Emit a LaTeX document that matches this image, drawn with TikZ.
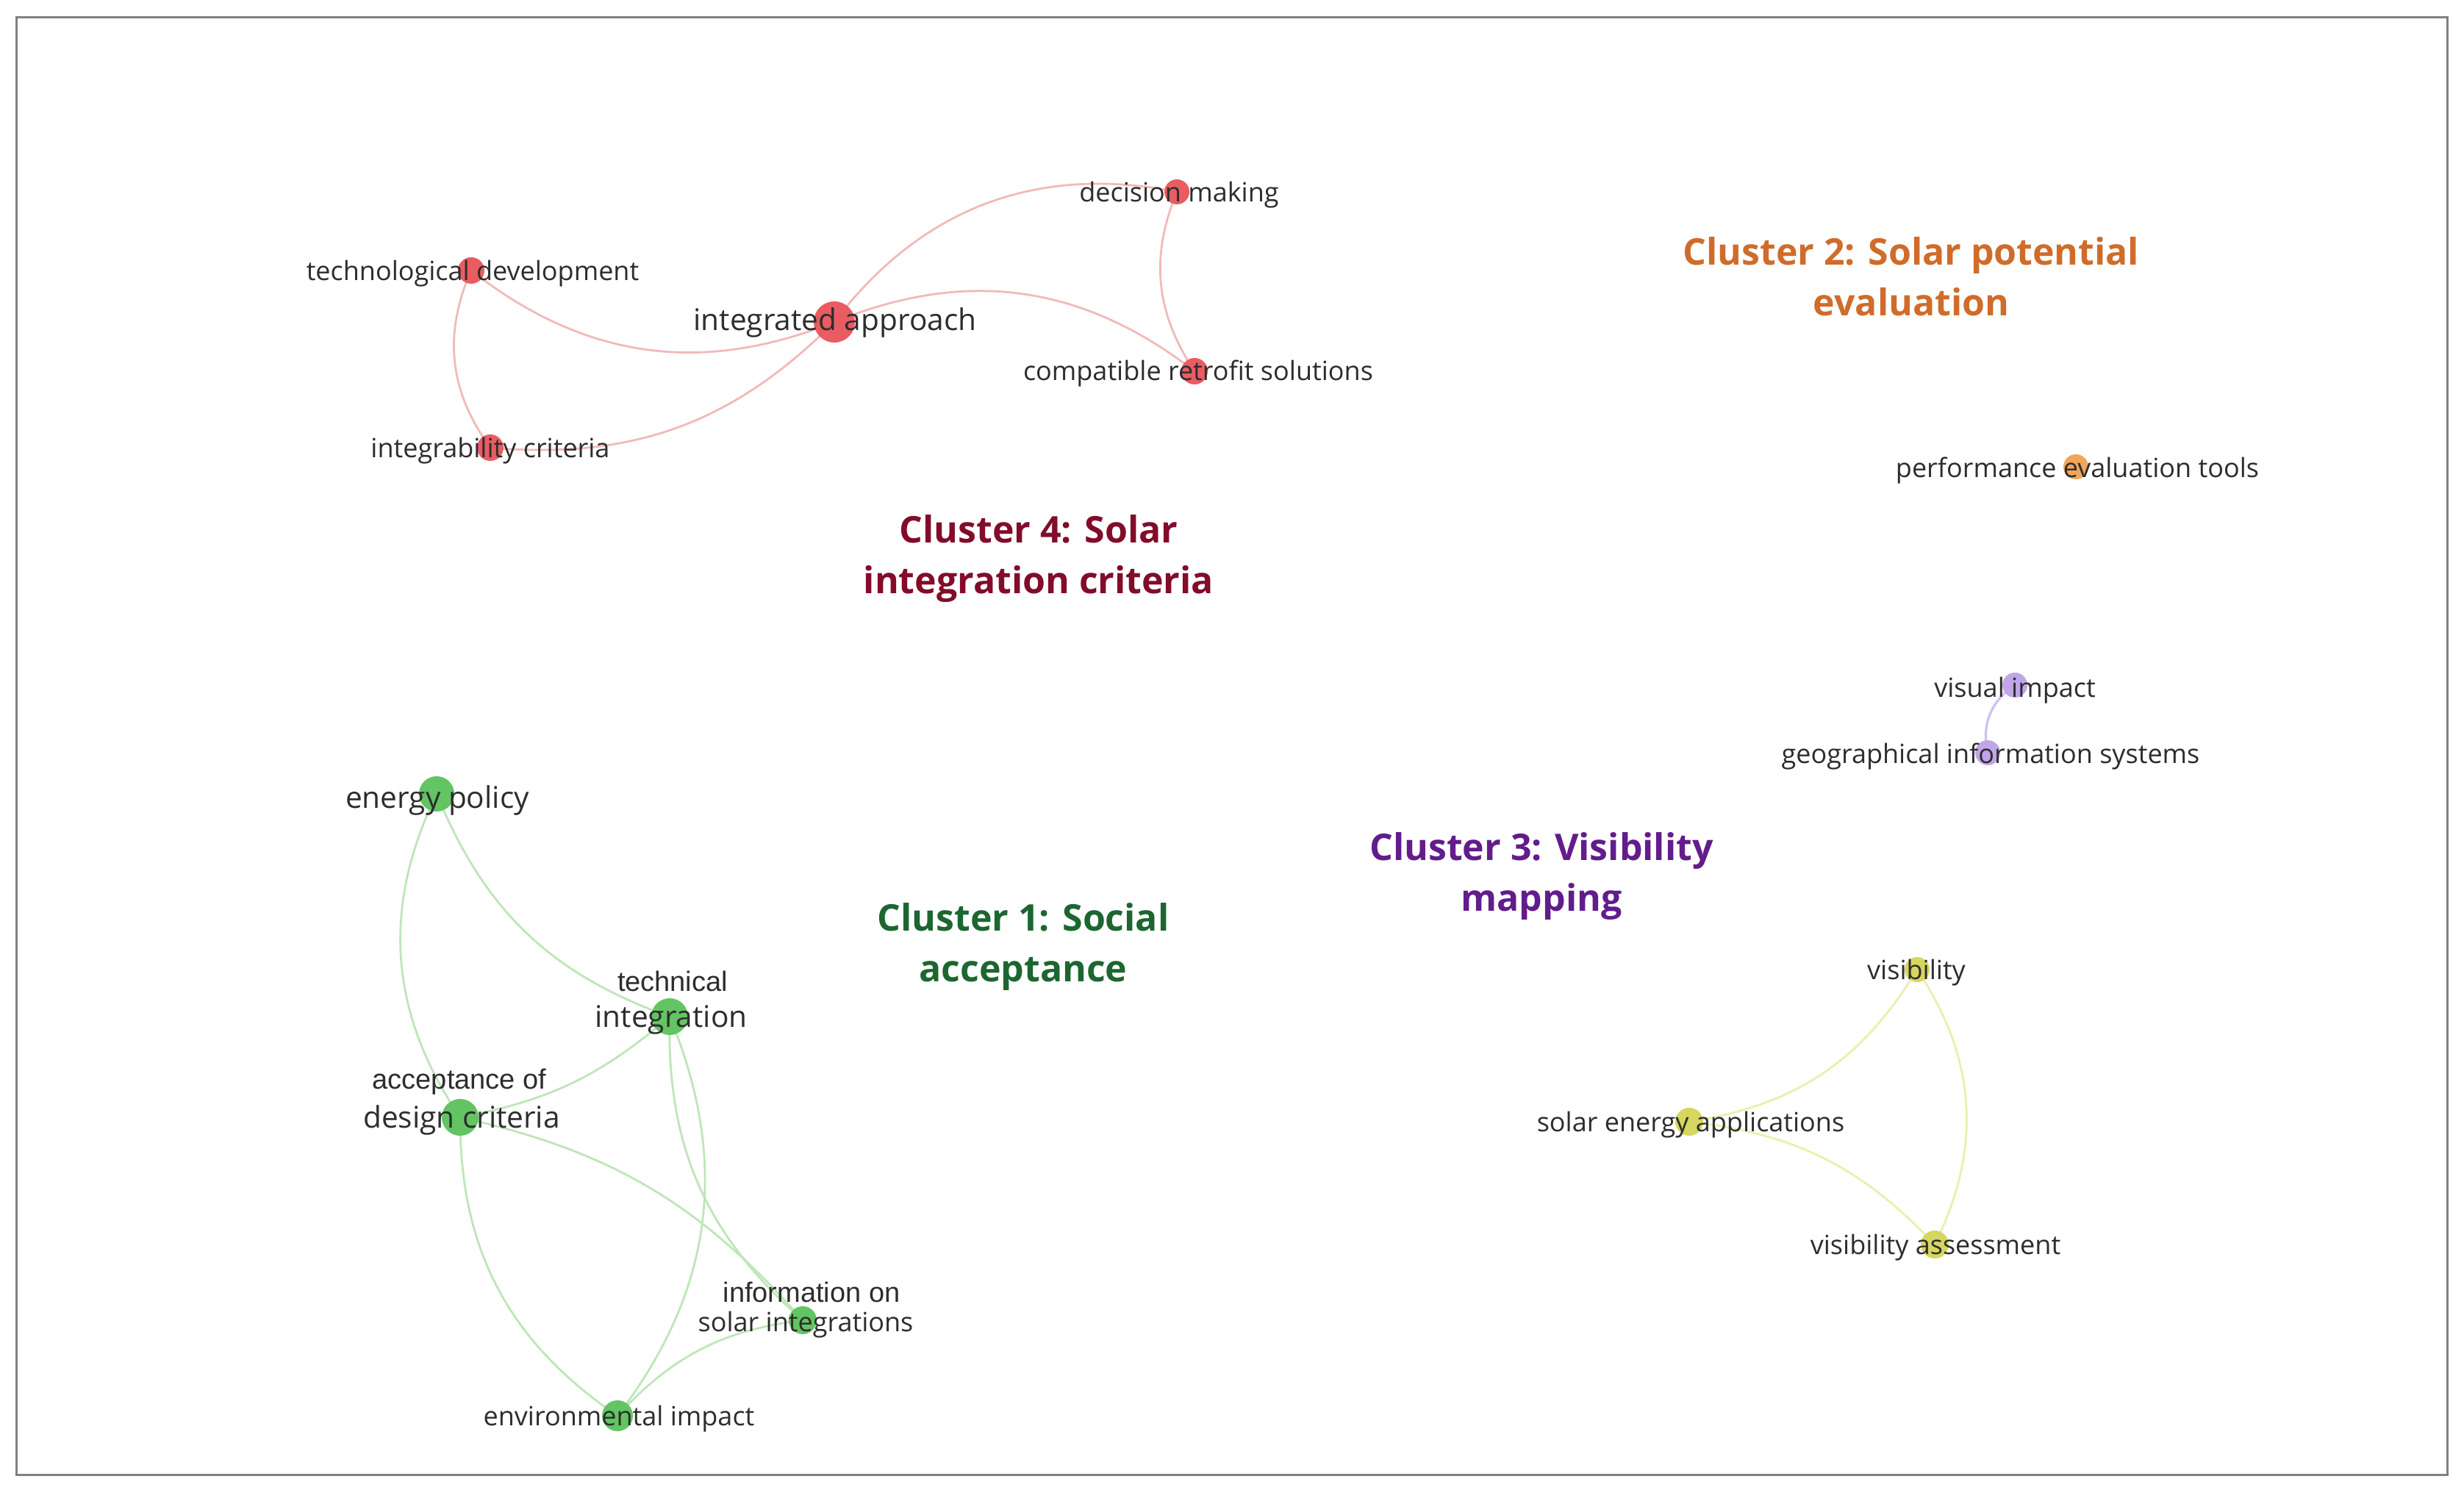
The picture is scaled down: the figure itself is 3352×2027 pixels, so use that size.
\documentclass[tikz,border=0pt]{standalone}
\usepackage{fontspec}
\setmainfont{Open Sans}
\newfontfamily\arialf{Liberation Sans}
\definecolor{framegray}{RGB}{128,128,128}
\definecolor{labelc}{RGB}{45,45,45}
\definecolor{redN}{RGB}{233,92,98}
\definecolor{redE}{RGB}{242,185,185}
\definecolor{greenN}{RGB}{98,196,98}
\definecolor{greenE}{RGB}{190,230,184}
\definecolor{orangeN}{RGB}{242,165,90}
\definecolor{purpleN}{RGB}{192,165,232}
\definecolor{purpleE}{RGB}{208,192,242}
\definecolor{yellowN}{RGB}{214,214,96}
\definecolor{yellowE}{RGB}{234,240,170}
\definecolor{cfour}{RGB}{130,12,42}
\definecolor{ctwo}{RGB}{208,108,42}
\definecolor{cone}{RGB}{28,102,48}
\definecolor{cthree}{RGB}{98,28,140}
\begin{document}
\begin{tikzpicture}[x=0.5pt,y=-0.5pt,
  dot/.style={circle,inner sep=0pt,draw=none,minimum size=#1},
  lbl/.style={font=\fontsize{18}{21}\selectfont,text=labelc,inner sep=0pt,anchor=base},
  biglbl/.style={font=\fontsize{20.3}{23}\selectfont,text=labelc,inner sep=0pt,anchor=base},
  arlbl/.style={font=\arialf\fontsize{19}{22}\selectfont,text=labelc,inner sep=0pt,anchor=base},
  title/.style={font=\bfseries\fontsize{25}{34.5}\selectfont,inner sep=0pt,anchor=north,align=center},
  redline/.style={draw=redE,line width=1.4pt},
  greenline/.style={draw=greenE,line width=1.4pt},
  purpleline/.style={draw=purpleE,line width=1.6pt},
  yellowline/.style={draw=yellowE,line width=1.4pt}]
\useasboundingbox (0,0) rectangle (3352,2027);
\fill[white] (0,0) rectangle (3352,2027);
\draw[framegray,line width=1.5pt] (22,24) rectangle (3329,2006);

% node positions
\coordinate (dm) at (1601,261);
\coordinate (td) at (641,368);
\coordinate (ia) at (1135,438);
\coordinate (crs) at (1625,505);
\coordinate (ic) at (667,609);
\coordinate (pet) at (2824,635);
\coordinate (vi) at (2741,932);
\coordinate (gis) at (2704,1024);
\coordinate (ep) at (594,1080);
\coordinate (ti) at (911,1383);
\coordinate (adc) at (626,1520);
\coordinate (isi) at (1092,1796);
\coordinate (env) at (840,1926);
\coordinate (vis) at (2608,1319);
\coordinate (sea) at (2298,1526);
\coordinate (va) at (2632,1693);

% edges
\draw[redline] (td) to[bend right=30] (ia);
\draw[redline] (td) to[bend right=30] (ic);
\draw[redline] (ic) to[bend right=25] (ia);
\draw[redline] (ia) to[bend left=32] (dm);
\draw[redline] (ia) to[bend left=30] (crs);
\draw[redline] (dm) to[bend right=28] (crs);

\draw[greenline] (ep) to[bend right=30] (adc);
\draw[greenline] (ep) to[bend right=24] (ti);
\draw[greenline] (adc) to[bend right=15] (ti);
\draw[greenline] (adc) to[bend right=28] (env);
\draw[greenline] (adc) to[bend left=18] (isi);
\draw[greenline] (ti) to[bend right=25] (isi);
\draw[greenline] (ti) to[bend left=30] (env);
\draw[greenline] (env) to[bend left=20] (isi);

\draw[purpleline] (vi) to[bend right=35] (gis);

\draw[yellowline] (sea) to[bend right=25] (vis);
\draw[yellowline] (vis) to[bend left=30] (va);
\draw[yellowline] (sea) to[bend left=20] (va);

% circles
\node[dot=17,fill=redN] (dm-c) at (dm) {};
\node[dot=18,fill=redN] (td-c) at (td) {};
\node[dot=28,fill=redN] (ia-c) at (ia) {};
\node[dot=18,fill=redN] (crs-c) at (crs) {};
\node[dot=18,fill=redN] (ic-c) at (ic) {};
\node[dot=17,fill=orangeN] (pet-c) at (pet) {};
\node[dot=17,fill=purpleN] (vi-c) at (vi) {};
\node[dot=17,fill=purpleN] (gis-c) at (gis) {};
\node[dot=24,fill=greenN] (ep-c) at (ep) {};
\node[dot=25,fill=greenN] (ti-c) at (ti) {};
\node[dot=25,fill=greenN] (adc-c) at (adc) {};
\node[dot=19,fill=greenN] (isi-c) at (isi) {};
\node[dot=21,fill=greenN] (env-c) at (env) {};
\node[dot=17,fill=yellowN] (vis-c) at (vis) {};
\node[dot=19,fill=yellowN] (sea-c) at (sea) {};
\node[dot=19,fill=yellowN] (va-c) at (va) {};

% labels
\node[lbl] (dm-l) at (1604,275) {decision making};
\node[lbl] (td-l) at (643,382) {technological development};
\node[biglbl] (ia-l) at (1136,450) {integrated approach};
\node[lbl] (crs-l) at (1630,518) {compatible retrofit solutions};
\node[lbl] (ic-l) at (667,623) {integrability criteria};
\node[lbl] (pet-l) at (2826,649) {performance evaluation tools};
\node[lbl] (vi-l) at (2741,948) {visual impact};
\node[lbl] (gis-l) at (2708,1038) {geographical information systems};
\node[biglbl] (ep-l) at (595,1099) {energy policy};
\node[arlbl] (ti-l1) at (915,1348) {technical};
\node[biglbl] (ti-l2) at (913,1397) {integration};
\node[arlbl] (adc-l1) at (625,1481) {acceptance of};
\node[biglbl] (adc-l2) at (628,1534) {design criteria};
\node[arlbl] (isi-l1) at (1104,1771) {information on};
\node[lbl] (isi-l2) at (1096,1811) {solar integrations};
\node[lbl] (env-l) at (842,1939) {environmental impact};
\node[lbl] (vis-l) at (2607,1332) {visibility};
\node[lbl] (sea-l) at (2300,1539) {solar energy applications};
\node[lbl] (va-l) at (2633,1706) {visibility assessment};

% cluster titles
\node[title,text=ctwo] (c2) at (2600,322) {Cluster 2: Solar potential\\evaluation};
\node[title,text=cfour] (c4) at (1413,700) {Cluster 4: Solar\\integration criteria};
\node[title,text=cone] (c1) at (1392,1228) {Cluster 1: Social\\acceptance};
\node[title,text=cthree] (c3) at (2097,1132) {Cluster 3: Visibility\\mapping};
\end{tikzpicture}
\end{document}
